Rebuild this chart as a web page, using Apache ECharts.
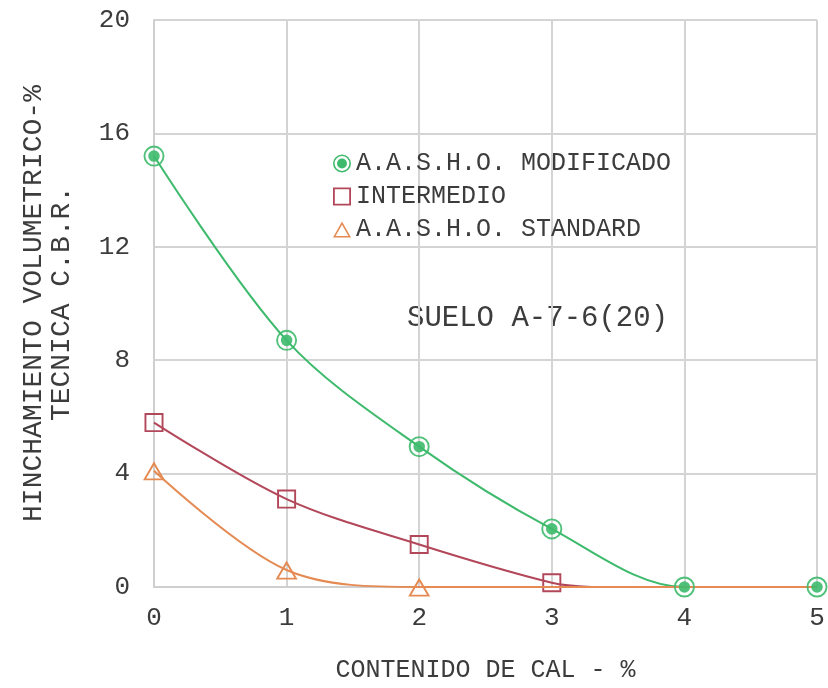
<!DOCTYPE html>
<html>
<head>
<meta charset="utf-8">
<script src="https://cdn.jsdelivr.net/npm/echarts@6/dist/echarts.min.js"></script>
<style>html,body{margin:0;padding:0;background:#fff}#c{width:828px;height:688px}</style>
</head>
<body>
<div id="c"></div>
<script>
const xTicks = [0, 1, 2, 3, 4, 5];
const yTicks = [0, 4, 8, 12, 16, 20];
const seriesNames = ['A.A.S.H.O. MODIFICADO', 'INTERMEDIO', 'A.A.S.H.O. STANDARD'];
const modificadoX = [0, 1, 2, 3, 4, 5];
const modificadoY = [15.2, 8.7, 4.95, 2.05, 0, 0];
const intermedioX = [0, 1, 2, 3, 3.3];
const intermedioY = [5.8, 3.1, 1.5, 0.15, 0];
const intermedioMarked = [true, true, true, true, false];
const standardX = [0, 1, 2, 3, 4, 5];
const standardY = [4.1, 0.6, 0, 0, 0, 0];
const standardMarked = [true, true, true, false, false, false];
const annotation = 'SUELO A-7-6(20)';
const xName = 'CONTENIDO DE CAL - %';
const yName = 'HINCHAMIENTO VOLUMETRICO-%\nTECNICA C.B.R.';

const FONT = 'Liberation Mono';
const TXT = '#3c3c3c';
const GREEN = '#3dba6c', RED = '#b3475a', ORANGE = '#e48a52';
const ringCircle = 'path://M0,-10A10,10 0 1,1 0,10A10,10 0 1,1 0,-10Z M0,-8.2A8.2,8.2 0 1,0 0,8.2A8.2,8.2 0 1,0 0,-8.2Z M0,-5.5A5.5,5.5 0 1,1 0,5.5A5.5,5.5 0 1,1 0,-5.5Z';
const hollowSquare = 'path://M0,0H20V20H0Z M2,2V18H18V2Z';
const hollowTri = 'path://M10,0L20,18L0,18Z M10,3.8L2.9,16.3L17.1,16.3Z';

const zip = (xs, ys) => xs.map((x, i) => [x, ys[i]]);

const chart = echarts.init(document.getElementById('c'));
chart.setOption({
  animation: false,
  backgroundColor: '#fff',
  grid: { left: 154, right: 11, top: 20, bottom: 100 },
  legend: {
    orient: 'vertical', left: 328, top: 146, itemGap: 8,
    itemWidth: 18, itemHeight: 18,
    textStyle: { fontFamily: FONT, fontSize: 25, color: TXT },
    data: [
      { name: seriesNames[0], icon: ringCircle },
      { name: seriesNames[1], icon: hollowSquare },
      { name: seriesNames[2], icon: hollowTri }
    ]
  },
  xAxis: {
    type: 'value', min: 0, max: 5, interval: 1,
    name: xName, nameLocation: 'middle', nameGap: 71,
    nameTextStyle: { fontFamily: FONT, fontSize: 25, color: TXT },
    axisLine: { show: true, lineStyle: { color: '#cfcfcf', width: 2 } },
    axisTick: { show: false },
    splitLine: { show: true, lineStyle: { color: '#d4d4d4', width: 2 } },
    axisLabel: { margin: 18, fontFamily: FONT, fontSize: 26, color: TXT,
      formatter: v => xTicks.includes(v) ? String(v) : '' }
  },
  yAxis: {
    type: 'value', min: 0, max: 20, interval: 4,
    name: yName, nameLocation: 'middle', nameGap: 78, nameRotate: 90,
    nameTextStyle: { fontFamily: FONT, fontSize: 28, color: TXT, lineHeight: 28, align: 'center' },
    axisLine: { show: true, lineStyle: { color: '#cfcfcf', width: 2 } },
    axisTick: { show: false },
    splitLine: { show: true, lineStyle: { color: '#d4d4d4', width: 2 } },
    axisLabel: { margin: 24, fontFamily: FONT, fontSize: 26, color: TXT,
      formatter: v => yTicks.includes(v) ? String(v) : '' }
  },
  series: [
    {
      name: seriesNames[0], type: 'line', smooth: 0.33, z: 2,
      data: zip(modificadoX, modificadoY), symbol: 'none',
      itemStyle: { color: GREEN }, lineStyle: { color: GREEN, width: 2 }
    },
    {
      name: seriesNames[1], type: 'line', smooth: 0.33, z: 3,
      data: zip(intermedioX, intermedioY).map((p, i) => ({ value: p, symbol: intermedioMarked[i] ? hollowSquare : 'none' })),
      symbolSize: 19,
      itemStyle: { color: RED }, lineStyle: { color: RED, width: 2 }
    },
    {
      name: seriesNames[2], type: 'line', smooth: 0.33, z: 4,
      data: zip(standardX, standardY).map((p, i) => ({ value: p, symbol: standardMarked[i] ? hollowTri : 'none' })),
      symbolSize: [22, 19],
      itemStyle: { color: ORANGE }, lineStyle: { color: ORANGE, width: 2 }
    },
    {
      name: seriesNames[0] + ' marks', type: 'scatter', z: 6,
      data: zip(modificadoX, modificadoY), symbol: ringCircle, symbolSize: 21,
      itemStyle: { color: GREEN, opacity: 0.9 }
    }
  ],
  graphic: [
    { type: 'text', left: 407, top: 304,
      style: { text: annotation, font: '29px "' + FONT + '"', fill: TXT } }
  ]
});
</script>
</body>
</html>
